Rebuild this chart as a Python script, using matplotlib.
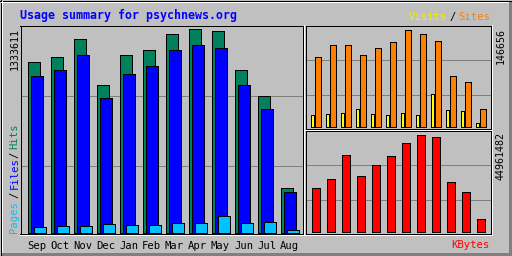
import matplotlib
matplotlib.use("Agg")
import matplotlib.pyplot as plt
from matplotlib.lines import Line2D

# ---------------- data ----------------
months = ['Sep', 'Oct', 'Nov', 'Dec', 'Jan', 'Feb', 'Mar', 'Apr', 'May', 'Jun', 'Jul', 'Aug']
hits = [1117000, 1156000, 1268000, 966000, 1165000, 1196000, 1307000, 1333611, 1327000, 1065000, 894000, 290000]
files = [1025000, 1065000, 1165000, 881000, 1040000, 1091000, 1202000, 1235000, 1209000, 966000, 809000, 264000]
pages = [34000, 43000, 41000, 56000, 49000, 49000, 62000, 62000, 106000, 62000, 69000, 16000]
visits = [18000, 19500, 21000, 26900, 19500, 18000, 21000, 18000, 49400, 25400, 23900, 6000]
sites = [104800, 123200, 123200, 108200, 118200, 127200, 146656, 139200, 128700, 76300, 67300, 26900]
kbytes = [20190000, 24320000, 35330000, 25690000, 30740000, 34870000, 40830000, 44961482, 43590000, 22940000, 18350000, 5960000]

# ---------------- style ----------------
W, H = 512, 256
BG = '#C0C0C0'
C_HITS = '#00805C'
C_FILES = '#0000FF'
C_PAGES = '#00C0FF'
C_VISITS = '#FFFF00'
C_SITES = '#FF8000'
C_KB = '#FF0000'
GRID = '#808080'
PX = 72.0 / 100  # one pixel in points
MONO = 'DejaVu Sans Mono'

plt.rcParams['patch.antialiased'] = False
plt.rcParams['lines.antialiased'] = False

fig = plt.figure(figsize=(W / 100, H / 100), dpi=100, facecolor=BG)


def fpos(x0, y0, x1, y1):
    return [x0 / W, 1 - y1 / H, (x1 - x0) / W, (y1 - y0) / H]


# decoration layer (pixel coordinates)
deco = fig.add_axes([0, 0, 1, 1], zorder=0)
deco.set_xlim(0, W)
deco.set_ylim(H, 0)
deco.axis('off')


def hline(y, x0, x1, c, z=1):
    deco.add_line(Line2D([x0, x1], [y, y], color=c, lw=PX, solid_capstyle='butt', zorder=z))


def vline(x, y0, y1, c, z=1):
    deco.add_line(Line2D([x, x], [y0, y1], color=c, lw=PX, solid_capstyle='butt', zorder=z))


# outer 3D frame
hline(0.5, 0, W, 'black')
vline(0.5, 0, H, 'black')
hline(1.5, 1, W - 1, 'white')
vline(1.5, 1, H - 1, 'white')
for y in (252.5, 253.5, 254.5):
    hline(y, 2, W - 1, '#808080')
for x in (508.5, 509.5, 510.5):
    vline(x, 2, H - 1, '#808080')
hline(255.5, 0, W, 'black')
vline(511.5, 0, H, 'black')

# panel highlights
vline(303.5, 25, 235, 'white')
hline(234.5, 20, 304, 'white')
vline(491.5, 25, 130, 'white')
hline(129.5, 305, 492, 'white')
vline(491.5, 130, 235, 'white')
hline(234.5, 305, 492, 'white')


def style_ax(ax):
    ax.set_facecolor(BG)
    for s in ax.spines.values():
        s.set_color('black')
        s.set_linewidth(PX)
    ax.set_yticks([])
    ax.tick_params(length=0)
    for f in (0.661, 0.325):
        ax.plot([0, 1], [f, f], transform=ax.transAxes, color=GRID, lw=PX, zorder=0.5)


x = list(range(len(months)))

# ---------------- left panel: hits / files / pages ----------------
axL = fig.add_axes(fpos(20.5, 25.5, 302.5, 233.5), zorder=2)
style_ax(axL)
sL = max(hits) / 203.0
axL.set_ylim(-1 * sL, 207 * sL)
axL.set_xlim(-16 / 23, -16 / 23 + 282 / 23)
bw = 12 / 23
off = 3 / 23
axL.bar([i - off for i in x], hits, width=bw, color=C_HITS, edgecolor='black', linewidth=PX, zorder=2)
axL.bar(x, files, width=bw, color=C_FILES, edgecolor='black', linewidth=PX, zorder=3)
axL.bar([i + off for i in x], pages, width=bw, color=C_PAGES, edgecolor='black', linewidth=PX, zorder=4)
axL.set_xticks(x)
axL.set_xticklabels(months, family=MONO, fontsize=7.6, color='black')
axL.tick_params(axis='x', pad=5.2)

# ---------------- top right: visits / sites ----------------
axT = fig.add_axes(fpos(305.5, 25.5, 490.5, 128.5), zorder=2)
style_ax(axT)
sT = max(sites) / 97.5
axT.set_ylim(-1.5 * sT, 101.5 * sT)
axT.set_xlim(-10.5 / 15, -10.5 / 15 + 185 / 15)
axT.bar([i - 3.5 / 15 for i in x], visits, width=3.2 / 15, color=C_VISITS, edgecolor='black', linewidth=PX, zorder=2)
axT.bar([i + 2 / 15 for i in x], sites, width=6.4 / 15, color=C_SITES, edgecolor='black', linewidth=PX, zorder=3)
axT.set_xticks([])

# ---------------- bottom right: kbytes ----------------
axB = fig.add_axes(fpos(305.5, 130.5, 490.5, 233.5), zorder=2)
style_ax(axB)
sB = max(kbytes) / 97.5
axB.set_ylim(-1.5 * sB, 101.5 * sB)
axB.set_xlim(-10.5 / 15, -10.5 / 15 + 185 / 15)
axB.bar(x, kbytes, width=8.5 / 15, color=C_KB, edgecolor='black', linewidth=PX, zorder=2)
axB.set_xticks([])

# ---------------- texts ----------------
deco.text(20, 15.5, 'Usage summary for psychnews.org', family=MONO, fontweight='bold',
          fontsize=8.4, color='#0000FF', ha='left', va='center')

deco.text(490, 17, 'Sites', family=MONO, fontsize=7.6, color=C_SITES, ha='right', va='center')
deco.text(456, 17, '/', family=MONO, fontsize=7.6, color='black', ha='right', va='center')
deco.text(447, 17, 'Visits', family=MONO, fontsize=7.6, color='#F0F000', ha='right', va='center')

deco.text(490, 245, 'KBytes', family=MONO, fontsize=7.6, color=C_KB, ha='right', va='center')

deco.text(14.5, 27.5, str(max(hits)), family=MONO, fontsize=7.2, color='black',
          rotation=90, ha='center', va='top')
deco.text(501, 27.5, str(max(sites)), family=MONO, fontsize=7.2, color='black',
          rotation=90, ha='center', va='top')
deco.text(501, 132, str(max(kbytes)), family=MONO, fontsize=7.2, color='black',
          rotation=90, ha='center', va='top')

deco.text(14.5, 233, 'Pages', family=MONO, fontsize=7.6, color=C_PAGES, rotation=90, ha='center', va='bottom')
deco.text(14.5, 198, '/', family=MONO, fontsize=7.6, color='black', rotation=90, ha='center', va='bottom')
deco.text(14.5, 189, 'Files', family=MONO, fontsize=7.6, color=C_FILES, rotation=90, ha='center', va='bottom')
deco.text(14.5, 158, '/', family=MONO, fontsize=7.6, color='black', rotation=90, ha='center', va='bottom')
deco.text(14.5, 149, 'Hits', family=MONO, fontsize=7.6, color=C_HITS, rotation=90, ha='center', va='bottom')

fig.savefig('out.png', dpi=100, facecolor=BG)
